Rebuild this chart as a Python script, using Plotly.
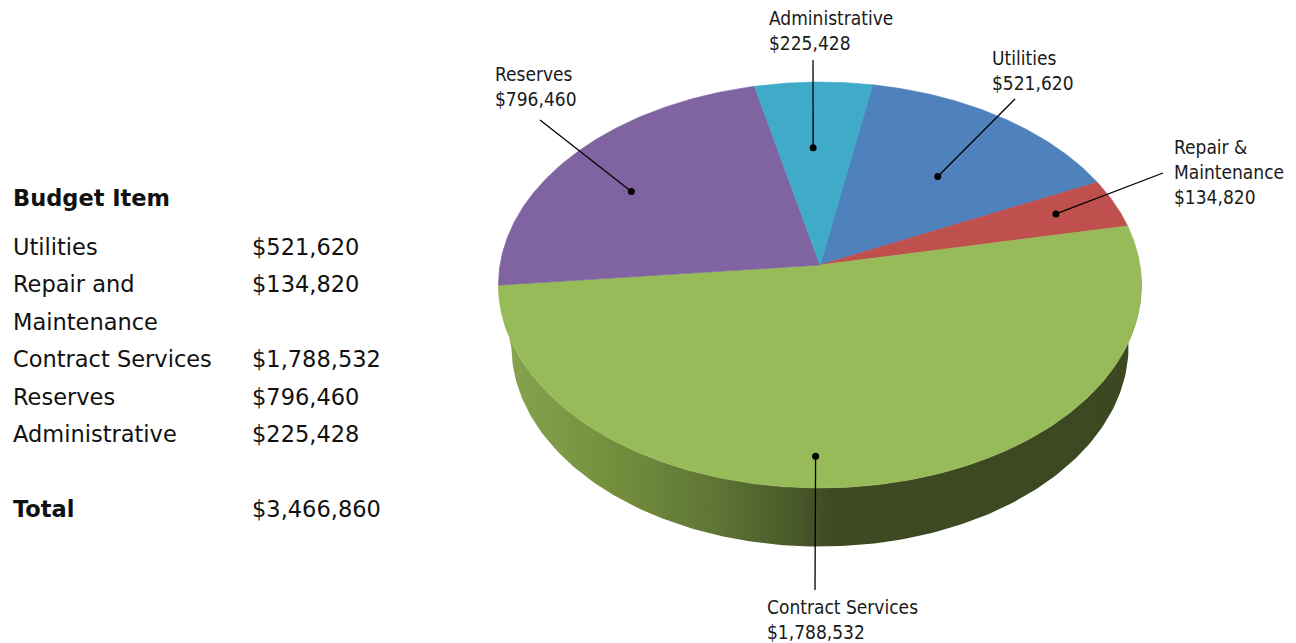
import numpy as np
import plotly.graph_objects as go

# ---------------- data ----------------
categories = ["Utilities", "Repair and Maintenance", "Contract Services", "Reserves", "Administrative"]
values = [521620, 134820, 1788532, 796460, 225428]
pie_labels = [["Utilities"], ["Repair &", "Maintenance"], ["Contract Services"], ["Reserves"], ["Administrative"]]
table_names = [["Utilities"], ["Repair and", "Maintenance"], ["Contract Services"], ["Reserves"], ["Administrative"]]
table_title = "Budget Item"
total_label = "Total"

# ---------------- style ----------------
top_colors = ["#4f81bd", "#c0504d", "#98bb5a", "#8064a2", "#3fabc8"]
side_colors = ["#3a5f8c", "#8e3b39", None, "#5d4a7a", "#2f7f95"]
contract_side_scale = [[0.0, "#87a44f"], [0.16, "#76923f"], [0.31, "#627a36"],
                       [0.45, "#4b5c2b"], [0.52, "#3e4a22"], [1.0, "#3c4821"]]
W, Hpx = 1296, 643
R = 320.0
D = 10.15 * R
K = 0.628
CX, CY = 820.0, 265.0
THICK = 62.0
SB = 0.96
START = 10.4  # degrees, clockwise from the back
SIDE_FROM, SIDE_TO = 90.0, 264.0  # visible part of the rim wall

LABEL_FONT = "DejaVu Sans Condensed, Liberation Sans Narrow, sans-serif"
LABEL_SIZE = 19
TABLE_FONT = "DejaVu Sans, sans-serif"
TABLE_SIZE = 22.5

# label placement (style): text left x, first-line y, leader start (x, y), dot angle offset, dot radius fraction
label_style = [
    dict(x=990, y=58, lead=(1015, 99), dphi=2.4, rf=0.60),
    dict(x=1172, y=147, lead=(1163, 173), dphi=-0.6, rf=0.80),
    dict(x=765, y=607, lead=(815, 590), dphi=9.4, rf=0.87),
    dict(x=493, y=74, lead=(540, 120), dphi=-3.8, rf=0.72),
    dict(x=767, y=18, lead=(813, 60), dphi=-0.8, rf=0.62),
]


def proj(X, Y, Z=0.0):
    s = D / (D - Y)
    return CX + s * X, CY + s * (Y * K + Z)


def rim(phi_deg, bottom=False, rf=1.0):
    p = np.radians(phi_deg)
    X = R * rf * np.sin(p)
    Y = -R * rf * np.cos(p)
    if bottom:
        return proj(X * SB, Y * SB, THICK)
    return proj(X, Y)


total = sum(values)
fracs = [v / total for v in values]
bounds = [START]
for f in fracs:
    bounds.append(bounds[-1] + 360.0 * f)

fig = go.Figure()

# ---- side faces (front half only) ----
for i in range(len(values)):
    a, b = bounds[i], bounds[i + 1]
    lo, hi = max(a, SIDE_FROM), min(b, SIDE_TO)
    if hi <= lo:
        continue
    ph = np.linspace(lo, hi, 200)
    tx, ty = rim(ph)
    bx, by = rim(ph[::-1], bottom=True)
    xs = np.concatenate([tx, bx, tx[:1]])
    ys = np.concatenate([ty, by, ty[:1]])
    if side_colors[i] is None:
        fig.add_trace(go.Scatter(x=xs, y=ys, mode="lines", fill="toself",
                                 line=dict(width=0, color="rgba(0,0,0,0)"),
                                 fillgradient=dict(type="horizontal", colorscale=contract_side_scale),
                                 hoverinfo="skip", showlegend=False))
    else:
        fig.add_trace(go.Scatter(x=xs, y=ys, mode="lines", fill="toself",
                                 line=dict(width=0.5, color=side_colors[i]),
                                 fillcolor=side_colors[i], hoverinfo="skip", showlegend=False))

# ---- top faces ----
ax0, ay0 = proj(0.0, 0.0)
for i in range(len(values)):
    a, b = bounds[i], bounds[i + 1]
    ph = np.linspace(a, b, max(int((b - a) * 2), 8))
    rx, ry = rim(ph)
    xs = np.concatenate([[ax0], rx, [ax0]])
    ys = np.concatenate([[ay0], ry, [ay0]])
    fig.add_trace(go.Scatter(x=xs, y=ys, mode="lines", fill="toself",
                             line=dict(width=0.6, color=top_colors[i]),
                             fillcolor=top_colors[i], name=categories[i],
                             hoverinfo="name", showlegend=False))

# ---- leaders and labels ----
annotations = []
for i in range(len(values)):
    st = label_style[i]
    mid = (bounds[i] + bounds[i + 1]) / 2 + st["dphi"]
    dx, dy = rim(mid, rf=st["rf"])
    lx, ly = st["lead"]
    fig.add_trace(go.Scatter(x=[lx, dx], y=[ly, dy], mode="lines",
                             line=dict(color="black", width=1.3),
                             hoverinfo="skip", showlegend=False))
    fig.add_trace(go.Scatter(x=[dx], y=[dy], mode="markers",
                             marker=dict(color="black", size=7),
                             hoverinfo="skip", showlegend=False))
    lines = pie_labels[i] + [f"${values[i]:,}"]
    for j, t in enumerate(lines):
        annotations.append(dict(x=st["x"], y=st["y"] + 25 * j, text=t, showarrow=False,
                                xanchor="left", yanchor="middle", xref="x", yref="y",
                                font=dict(family=LABEL_FONT, size=LABEL_SIZE, color="#1a1a1a")))

# ---- table ----
TX1, TX2 = 11, 250
tfont = dict(family=TABLE_FONT, size=TABLE_SIZE, color="#111111")
annotations.append(dict(x=TX1, y=198, text=f"<b>{table_title}</b>", showarrow=False,
                        xanchor="left", yanchor="middle", xref="x", yref="y", font=tfont))
row_y = 247
ROW = 37.4
for i in range(len(values)):
    annotations.append(dict(x=TX2, y=row_y, text=f"${values[i]:,}", showarrow=False,
                            xanchor="left", yanchor="middle", xref="x", yref="y", font=tfont))
    for t in table_names[i]:
        annotations.append(dict(x=TX1, y=row_y, text=t, showarrow=False,
                                xanchor="left", yanchor="middle", xref="x", yref="y", font=tfont))
        row_y += ROW
annotations.append(dict(x=TX1, y=509, text=f"<b>{total_label}</b>", showarrow=False,
                        xanchor="left", yanchor="middle", xref="x", yref="y", font=tfont))
annotations.append(dict(x=TX2, y=509, text=f"${total:,}", showarrow=False,
                        xanchor="left", yanchor="middle", xref="x", yref="y", font=tfont))

fig.update_layout(
    width=W, height=Hpx,
    margin=dict(l=0, r=0, t=0, b=0),
    paper_bgcolor="white", plot_bgcolor="white",
    xaxis=dict(range=[0, W], visible=False, fixedrange=True),
    yaxis=dict(range=[Hpx, 0], visible=False, fixedrange=True),
    annotations=annotations,
    showlegend=False,
)

fig.write_html("out.html", config={"displayModeBar": False},
               post_script="document.body.style.margin='0';document.body.style.overflow='hidden';")
